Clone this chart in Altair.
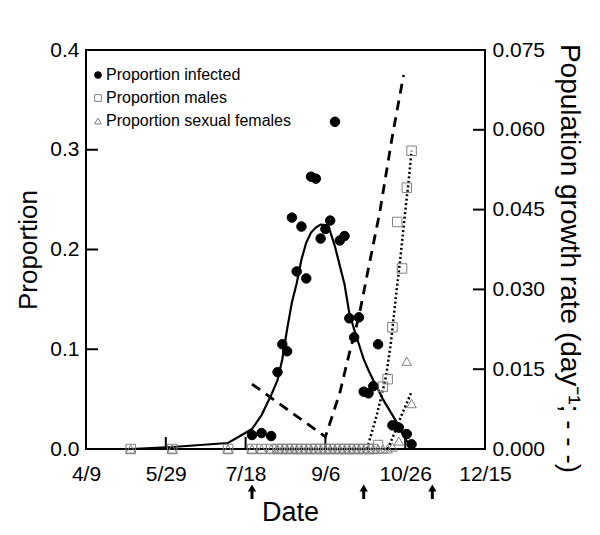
import altair as alt
import pandas as pd

# ---- axis ticks / labels ----
x_tick_days = [99, 149, 199, 249, 299, 349]          # day of year
x_tick_labels = ["4/9", "5/29", "7/18", "9/6", "10/26", "12/15"]
y_left_ticks = [0.0, 0.1, 0.2, 0.3, 0.4]
y_right_ticks = [0.0, 0.015, 0.030, 0.045, 0.060, 0.075]
arrow_days = [203, 273, 316]

# ---- observed proportions ----
inf_days = [203, 209, 215, 219, 222, 225, 228, 231, 234, 237, 240, 243, 246, 249, 252,
            255, 258, 261, 264, 267, 270, 273, 276, 279, 282, 291, 295, 300, 303]
inf_vals = [0.014, 0.016, 0.013, 0.077, 0.105, 0.098, 0.232, 0.178, 0.223, 0.171, 0.273,
            0.271, 0.211, 0.2205, 0.229, 0.328, 0.209, 0.2135, 0.131, 0.112, 0.132, 0.0575,
            0.0558, 0.063, 0.105, 0.0237, 0.0214, 0.015, 0.0047]

male_days = [127, 153, 188, 203, 209, 215, 219, 222, 225, 228, 231, 234, 237, 240, 243,
             246, 249, 252, 255, 258, 261, 264, 267, 270, 273, 276, 279, 282, 285, 288,
             291, 294, 297, 300, 303]
male_vals = [0.0, 0.0, 0.0, 0.0, 0.0, 0.0, 0.0, 0.0, 0.0, 0.0, 0.0, 0.0, 0.0, 0.0, 0.0,
             0.0, 0.0, 0.0, 0.0, 0.0, 0.0, 0.0, 0.0, 0.0, 0.0, 0.0, 0.0, 0.004, 0.0625, 0.070,
             0.122, 0.2276, 0.181, 0.262, 0.299]

fem_days = [127, 153, 188, 203, 209, 215, 219, 222, 225, 228, 231, 234, 237, 240, 243,
            246, 249, 252, 255, 258, 261, 264, 267, 270, 273, 276, 279, 282, 285, 288,
            291, 295, 300, 303]
fem_vals = [0.0, 0.0, 0.0, 0.0, 0.0, 0.0, 0.0, 0.0, 0.0, 0.0, 0.0, 0.0, 0.0, 0.0, 0.0,
            0.0, 0.0, 0.0, 0.0, 0.0, 0.0, 0.0, 0.0, 0.0, 0.0, 0.0, 0.0, 0.0, 0.0, 0.0,
            0.002, 0.008, 0.088, 0.0455]

# ---- fitted curves ----
fit_inf_days = [127, 153, 188, 203, 209, 215, 219, 222, 225, 228, 231, 234, 237, 240, 243,
                246, 249, 252, 255, 258, 261, 264, 267, 270, 273, 276, 279, 282, 285, 288,
                291, 294, 297, 300, 303]
fit_inf_vals = [0.0, 0.002, 0.006, 0.020, 0.034, 0.054, 0.069, 0.090, 0.120, 0.147, 0.166,
                0.190, 0.207, 0.217, 0.222, 0.225, 0.2245, 0.218, 0.203, 0.184, 0.165, 0.136,
                0.120, 0.105, 0.090, 0.079, 0.069, 0.060, 0.050, 0.042, 0.034, 0.026, 0.016,
                0.008, 0.002]

fit_male_days = [275, 278, 281, 284, 287, 290, 293, 296, 299, 301, 303]
fit_male_vals = [0.0, 0.016, 0.033, 0.052, 0.073, 0.106, 0.150, 0.192, 0.238, 0.266, 0.299]

fit_fem_days = [288, 291, 294, 297, 300, 303]
fit_fem_vals = [0.0, 0.011, 0.023, 0.035, 0.046, 0.0575]

growth_days = [203, 249, 258, 264, 270, 276, 283, 291, 298]
growth_vals = [0.0122, 0.0023, 0.0105, 0.0180, 0.0249, 0.0340, 0.0444, 0.0589, 0.0703]

series_names = ["Proportion infected", "Proportion males", "Proportion sexual females"]

W, H = 399, 399
FONT = "Liberation Sans"

pts = pd.DataFrame(
    [{"day": d, "value": v, "series": series_names[0]} for d, v in zip(inf_days, inf_vals)]
    + [{"day": d, "value": v, "series": series_names[1]} for d, v in zip(male_days, male_vals)]
    + [{"day": d, "value": v, "series": series_names[2]} for d, v in zip(fem_days, fem_vals)]
)
# draw grey markers first, infected on top
pts["order"] = pts["series"].map({series_names[0]: 2, series_names[1]: 1, series_names[2]: 0})

fit_inf = pd.DataFrame({"day": fit_inf_days, "value": fit_inf_vals})
fit_male = pd.DataFrame({"day": fit_male_days, "value": fit_male_vals})
fit_fem = pd.DataFrame({"day": fit_fem_days, "value": fit_fem_vals})
growth = pd.DataFrame({"day": growth_days, "rate": growth_vals})
xt = pd.DataFrame({"day": x_tick_days})
ylt = pd.DataFrame({"value": y_left_ticks})
yrt = pd.DataFrame({"rate": y_right_ticks})
arr = pd.DataFrame({"day": arrow_days})

label_expr = " : ".join(
    f"datum.value == {d} ? '{l}'" for d, l in zip(x_tick_days, x_tick_labels)
) + " : ''"

x_scale = alt.Scale(domain=[99, 349], nice=False, zero=False)
x_axis = alt.Axis(values=x_tick_days, labelExpr=label_expr, title="Date",
                  labelPadding=14, labelFlush=False, labelOverlap=False, labelAlign="center",
                  titleX=204, titleY=63, titleBaseline="middle", titleFontSize=27)
X = alt.X("day:Q", scale=x_scale, axis=x_axis)

yl_scale = alt.Scale(domain=[0, 0.4], nice=False, zero=True)
yl_axis = alt.Axis(values=y_left_ticks, format=".1f", title="Proportion", orient="left",
                   labelPadding=7, labelFlush=False, labelOverlap=False,
                   labelBaseline="middle",
                   titleX=-58, titleY=H / 2, titleBaseline="middle", titleFontSize=26)
YL = alt.Y("value:Q", scale=yl_scale, axis=yl_axis)

yr_scale = alt.Scale(domain=[0, 0.075], nice=False, zero=True)
yr_axis = alt.Axis(values=y_right_ticks, format=".3f", orient="right",
                   title="Population growth rate (day\u207b\u00b9; - - -)",
                   labelPadding=7, labelFlush=False, labelOverlap=False,
                   labelBaseline="middle",
                   titleX=83, titleY=208, titleBaseline="middle",
                   titleAngle=90, titleFontSize=28)
YR = alt.Y("rate:Q", scale=yr_scale, axis=yr_axis)

legend = alt.Legend(title=None, orient="none", legendX=4, legendY=17, padding=0,
                    labelFontSize=16, labelColor="black", symbolSize=45, labelOffset=0,
                    rowPadding=7, symbolStrokeWidth=1, labelFont=FONT, labelLimit=400)

# inward ticks
x_ticks = alt.Chart(xt).mark_rule(color="black", strokeWidth=2).encode(
    x=X, y=alt.value(H), y2=alt.value(H - 12))
yl_ticks = alt.Chart(ylt).mark_rule(color="black", strokeWidth=2).encode(
    y=YL, x=alt.value(0), x2=alt.value(12))
yr_ticks = alt.Chart(yrt).mark_rule(color="black", strokeWidth=2).encode(
    y=YR, x=alt.value(W - 12), x2=alt.value(W))

inf_line = alt.Chart(fit_inf).mark_line(color="black", strokeWidth=2.2).encode(x=X, y=YL)
male_line = alt.Chart(fit_male).mark_line(color="black", strokeWidth=2.5,
                                          strokeDash=[2, 2.5]).encode(x=X, y=YL)
fem_line = alt.Chart(fit_fem).mark_line(color="black", strokeWidth=2.5,
                                        strokeDash=[2, 2.5]).encode(x=X, y=YL)

points = alt.Chart(pts).mark_point(filled=True, size=90, strokeWidth=1, opacity=1).encode(
    x=X, y=YL,
    shape=alt.Shape("series:N", scale=alt.Scale(domain=series_names,
                                               range=["circle", "square", "triangle-up"]),
                    legend=legend),
    fill=alt.Fill("series:N", scale=alt.Scale(domain=series_names,
                                             range=["black", "transparent", "transparent"]),
                  legend=legend),
    stroke=alt.Stroke("series:N", scale=alt.Scale(domain=series_names,
                                                 range=["black", "#808080", "#808080"]),
                      legend=legend),
    order=alt.Order("order:Q"),
)

arrow_shaft = alt.Chart(arr).mark_rule(color="black", strokeWidth=3).encode(
    x=X, y=alt.value(H + 40), y2=alt.value(H + 50))
arrow_head = alt.Chart(arr).mark_point(shape="triangle-up", filled=True, color="black",
                                       size=70, opacity=1).encode(
    x=X, y=alt.value(H + 39))

growth_line = alt.Chart(growth).mark_line(color="black", strokeWidth=2.8,
                                          strokeDash=[10, 7]).encode(x=X, y=YR)

left = alt.layer(x_ticks, yl_ticks, inf_line, male_line, fem_line, points,
                 arrow_shaft, arrow_head)
right = alt.layer(growth_line, yr_ticks)

chart = alt.layer(left, right).resolve_scale(y="independent").properties(
    width=W, height=H,
    padding={"left": 78, "top": 42, "right": 105, "bottom": 82},
    autosize=alt.AutoSizeParams(type="none"),
).configure(font=FONT).configure_view(
    stroke="black", strokeWidth=2
).configure_axis(
    grid=False, domain=False, ticks=False, tickSize=0, labelFontSize=21,
    labelColor="black", titleColor="black", titleFontWeight="normal", labelFont=FONT,
    titleFont=FONT
)

chart.save("out.html", embed_options={"renderer": "svg", "actions": False})
